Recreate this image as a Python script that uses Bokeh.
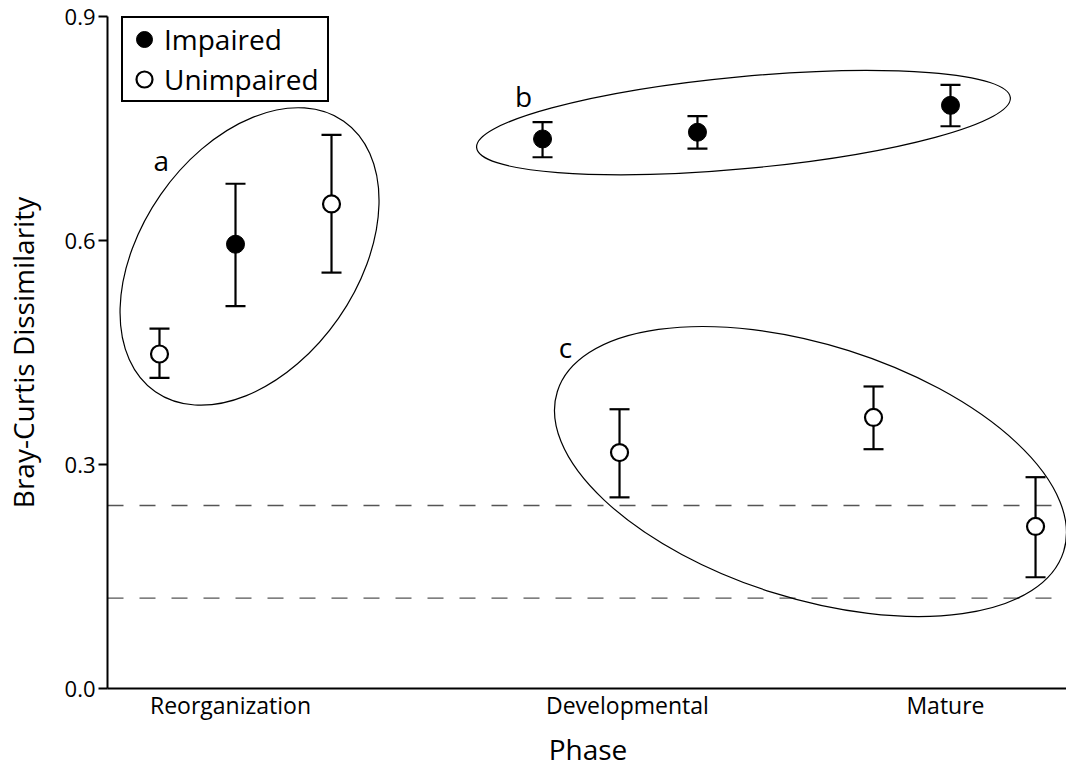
from bokeh.plotting import figure
from bokeh.models import (ColumnDataSource, Whisker, TeeHead, Span, Legend, LegendItem,
                          FixedTicker, PrintfTickFormatter, Range1d)
from bokeh.core.properties import value
from bokeh.embed import file_html
from bokeh.resources import INLINE

FONT = "Open Sans"

# Phase labels along the sampling axis (x runs 0-100 across the sampling sequence)
phase_names = ["Reorganization", "Developmental", "Mature"]
phase_pos = [12.8, 54.1, 87.2]

# Impaired sites: mean Bray-Curtis dissimilarity with error bounds
imp_x = [13.32, 45.27, 61.39, 87.72]
imp_mean = [0.595, 0.736, 0.745, 0.781]
imp_lower = [0.512, 0.7115, 0.723, 0.753]
imp_upper = [0.676, 0.7585, 0.7665, 0.8085]

# Unimpaired sites
unimp_x = [5.41, 23.31, 53.28, 79.71, 96.57]
unimp_mean = [0.448, 0.649, 0.316, 0.363, 0.217]
unimp_lower = [0.416, 0.557, 0.256, 0.3205, 0.149]
unimp_upper = [0.482, 0.7415, 0.374, 0.4045, 0.283]

# Reference dissimilarity levels (dashed lines)
ref_levels = [0.245, 0.121]

# Grouping ellipses a, b, c
group_names = ["a", "b", "c"]
group_cx = [14.78, 66.18, 73.15]
group_cy = [0.5786, 0.7579, 0.2906]
group_w = [34.30, 55.78, 55.25]
group_h = [0.2901, 0.1232, 0.3396]
group_angle = [55.15, 5.35, -17.55]
group_label_x = [5.60, 43.30, 47.65]
group_label_y = [0.708, 0.794, 0.458]

y_ticks = [0.0, 0.3, 0.6, 0.9]

p = figure(frame_width=961, frame_height=672,
           min_border_left=105, min_border_right=0, min_border_top=16, min_border_bottom=83,
           x_range=Range1d(0, 100), y_range=Range1d(0, 0.9),
           output_backend="svg", toolbar_location=None)
p.grid.visible = False
p.outline_line_color = None
p.background_fill_color = "white"
p.border_fill_color = "white"

# reference lines
for lvl in ref_levels:
    p.add_layout(Span(location=lvl, dimension="width", line_color="#555555",
                      line_width=1.4, line_dash="16 16", level="underlay"))

# group ellipses
p.ellipse(x=group_cx, y=group_cy, width=group_w, height=group_h,
          angle=group_angle, angle_units="deg",
          fill_color=None, line_color="black", line_width=1.2)

p.text(x=group_label_x, y=group_label_y, text=group_names,
       text_font=value(FONT), text_font_size="28px", text_color="black",
       text_align="center", text_baseline="alphabetic")

imp_src = ColumnDataSource(dict(x=imp_x, y=imp_mean, lower=imp_lower, upper=imp_upper))
unimp_src = ColumnDataSource(dict(x=unimp_x, y=unimp_mean, lower=unimp_lower, upper=unimp_upper))

for src in (imp_src, unimp_src):
    p.add_layout(Whisker(source=src, base="x", lower="lower", upper="upper",
                         dimension="height", line_color="black", line_width=2.2,
                         upper_head=TeeHead(size=20, line_width=2.2, line_color="black"),
                         lower_head=TeeHead(size=20, line_width=2.2, line_color="black"),
                         level="underlay"))

r_imp = p.scatter("x", "y", source=imp_src, size=18, marker="circle",
                  fill_color="black", line_color="black", line_width=1)
r_unimp = p.scatter("x", "y", source=unimp_src, size=17, marker="circle",
                    fill_color="white", line_color="black", line_width=2.2)

legend = Legend(items=[LegendItem(label="Impaired", renderers=[r_imp]),
                       LegendItem(label="Unimpaired", renderers=[r_unimp])],
                location=(14, 672 - 86), padding=1, spacing=0, margin=0,
                glyph_width=40, glyph_height=40, label_standoff=0,
                label_height=40, label_width=162,
                label_text_font=FONT, label_text_font_size="28px",
                label_text_color="black",
                border_line_color="black", border_line_width=2, border_line_alpha=1,
                background_fill_color="white", background_fill_alpha=1)
p.add_layout(legend)

# y axis
ya = p.yaxis[0]
ya.ticker = FixedTicker(ticks=y_ticks)
ya.formatter = PrintfTickFormatter(format="%.1f")
ya.axis_label = "Bray-Curtis Dissimilarity"
ya.axis_label_text_font = FONT
ya.axis_label_text_font_size = "28px"
ya.axis_label_text_font_style = "normal"
ya.axis_label_text_color = "black"
ya.axis_label_standoff = 20
ya.major_label_text_font = FONT
ya.major_label_text_font_size = "22px"
ya.major_label_text_color = "black"
ya.major_label_standoff = 3
ya.major_tick_out = 9
ya.major_tick_in = 0
ya.minor_tick_out = 0
ya.minor_tick_in = 0
ya.axis_line_width = 2
ya.axis_line_color = "black"
ya.major_tick_line_width = 2
ya.major_tick_line_color = "black"

# x axis
xa = p.xaxis[0]
xa.ticker = FixedTicker(ticks=phase_pos)
xa.major_label_overrides = {pos: name for pos, name in zip(phase_pos, phase_names)}
xa.axis_label = "Phase"
xa.axis_label_text_font = FONT
xa.axis_label_text_font_size = "28px"
xa.axis_label_text_font_style = "normal"
xa.axis_label_text_color = "black"
xa.axis_label_standoff = 6
xa.major_label_text_font = FONT
xa.major_label_text_font_size = "23px"
xa.major_label_text_color = "black"
xa.major_label_standoff = 0
xa.major_tick_out = 0
xa.major_tick_in = 0
xa.minor_tick_out = 0
xa.minor_tick_in = 0
xa.axis_line_width = 2
xa.axis_line_color = "black"

open("out.html", "w").write(file_html(p, INLINE))
